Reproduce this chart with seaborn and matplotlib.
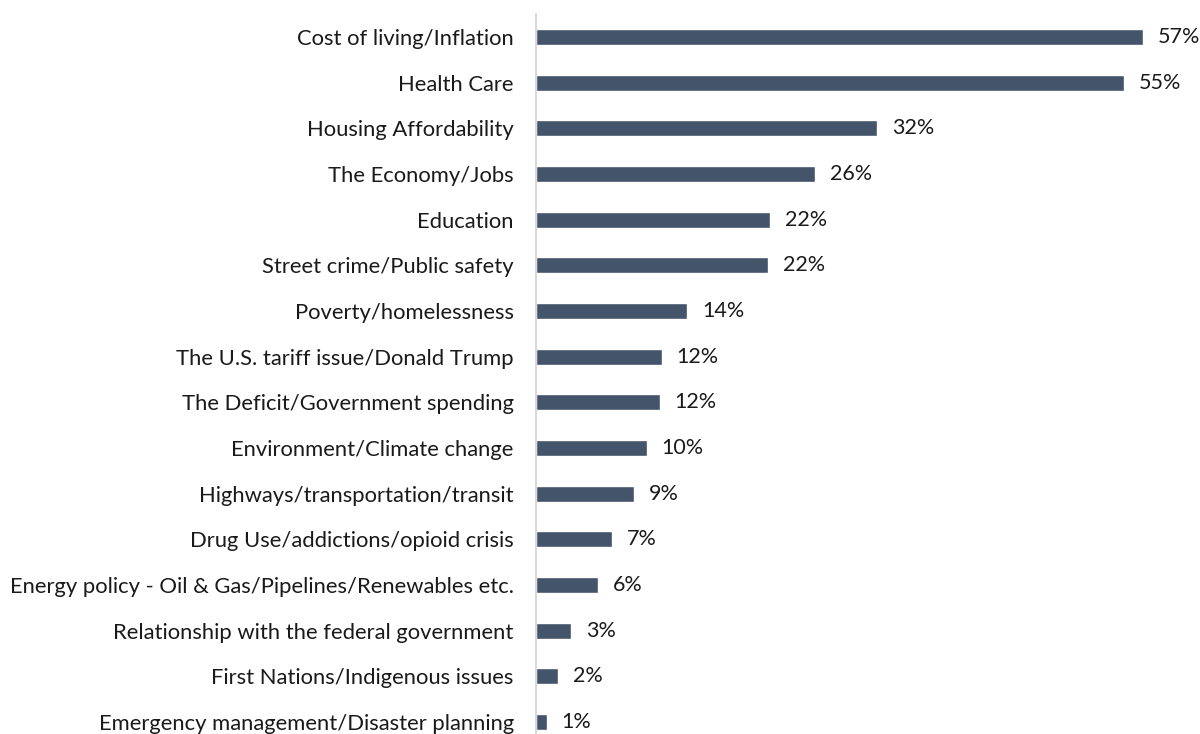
import matplotlib.pyplot as plt
import pandas as pd
import seaborn as sns

issues = [
    "Cost of living/Inflation",
    "Health Care",
    "Housing Affordability",
    "The Economy/Jobs",
    "Education",
    "Street crime/Public safety",
    "Poverty/homelessness",
    "The U.S. tariff issue/Donald Trump",
    "The Deficit/Government spending",
    "Environment/Climate change",
    "Highways/transportation/transit",
    "Drug Use/addictions/opioid crisis",
    "Energy policy - Oil & Gas/Pipelines/Renewables etc.",
    "Relationship with the federal government",
    "First Nations/Indigenous issues",
    "Emergency management/Disaster planning",
]
shares = [57.0, 55.2, 32.0, 26.2, 22.0, 21.8, 14.2, 11.8, 11.6, 10.4, 9.2, 7.1, 5.8, 3.3, 2.1, 1.0]

df = pd.DataFrame({"issue": issues, "share": shares})

sns.set_theme(style="white")
plt.rcParams["font.family"] = ["Lato", "DejaVu Sans"]

fig = plt.figure(figsize=(12, 7.34), dpi=100)
ax = fig.add_axes([536 / 1200, -11 / 734, 664 / 1200, 731 / 734])

sns.barplot(data=df, x="share", y="issue", color="#44546A", width=0.35,
            saturation=1, ax=ax)

for i, v in enumerate(shares):
    ax.text(v + 1.4, i, f"{round(v)}%", va="center", ha="left",
            fontsize=15.5, color="#1a1a1a")

ax.set_xlim(0, 62.35)
ax.set_ylim(15.5, -0.5)
ax.set_xlabel("")
ax.set_ylabel("")
ax.set_xticks([])
ax.tick_params(axis="y", length=0, pad=16, labelsize=15.8, labelcolor="#1a1a1a")
for s in ["top", "right", "bottom"]:
    ax.spines[s].set_visible(False)
ax.spines["left"].set_color("#D9D9D9")
ax.spines["left"].set_linewidth(1.5)

fig.savefig("out.png", dpi=100)
